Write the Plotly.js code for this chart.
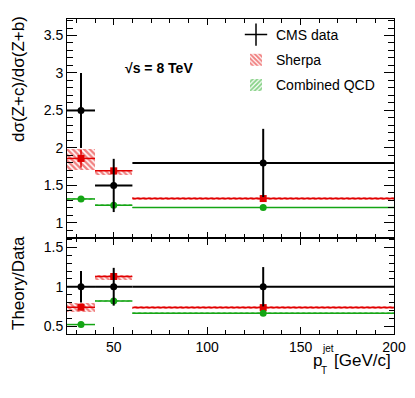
<!DOCTYPE html>
<html><head><meta charset="utf-8">
<script src="https://cdn.plot.ly/plotly-3.0.1.min.js"></script>
<style>html,body{margin:0;padding:0;background:#fff}#chart{width:415px;height:398px}</style>
</head><body><div id="chart"></div>
<script>
// ---- data ----
const binLo = [25, 40, 60];
const binHi = [40, 60, 200];
const cms = [2.5, 1.5, 1.8];
const cmsErr = [0.5, 0.355, 0.455];
const sherpa = [1.86, 1.695, 1.325];
const sherpaLo = [1.71, 1.635, 1.305];
const sherpaHi = [1.99, 1.71, 1.345];
const sherpaStat = [0.12, 0.015, 0.01];
const qcd = [1.32, 1.235, 1.205];
const qcdLo = [1.305, 1.22, 1.195];
const qcdHi = [1.335, 1.25, 1.215];
const cmsRatio = [1, 1, 1];
const cmsRatioErr = [0.2, 0.24, 0.25];
const sherpaR = [0.74, 1.13, 0.735];
const sherpaRLo = [0.675, 1.09, 0.715];
const sherpaRHi = [0.79, 1.143, 0.75];
const qcdR = [0.52, 0.82, 0.665];
const qcdRLo = [0.51, 0.81, 0.655];
const qcdRHi = [0.53, 0.83, 0.675];

const RED = 'rgb(225,0,0)', GREEN = 'rgb(20,165,20)';
const FONT = 'Liberation Sans, Arial, sans-serif';
const xc = binLo.map((l, i) => (l + binHi[i]) / 2);
const wd = binLo.map((l, i) => binHi[i] - l);
const hw = wd.map(w => w / 2);

function band(lo, hi, color, shape, xa, ya, name, show, grp) {
  return {type: 'bar', x: xc, width: wd, base: lo, y: hi.map((h, i) => h - lo[i]),
    xaxis: xa, yaxis: ya, name: name, showlegend: show, legendgroup: grp,
    marker: {color: 'rgba(0,0,0,0)', line: {width: 0},
      pattern: {shape: shape, fgcolor: color, bgcolor: 'rgba(0,0,0,0)', size: 4, solidity: 0.6, fillmode: 'overlay'}},
    hoverinfo: 'skip'};
}
function central(y, color, sym, xa, ya, ey) {
  const t = {type: 'scatter', mode: 'markers', x: xc, y: y, xaxis: xa, yaxis: ya, showlegend: false,
    marker: {color: color, symbol: sym, size: 7},
    error_x: {type: 'data', array: hw, color: color, thickness: 1.5, width: 0}};
  if (ey) t.error_y = {type: 'data', array: ey, color: color, thickness: 1.5, width: 0};
  return t;
}
function data(y, e, xa, ya) {
  return {type: 'scatter', mode: 'markers', x: xc, y: y, xaxis: xa, yaxis: ya, showlegend: false,
    marker: {color: 'black', symbol: 'circle', size: 7},
    error_x: {type: 'data', array: hw, color: 'black', thickness: 2, width: 0},
    error_y: {type: 'data', array: e, color: 'black', thickness: 2, width: 0}};
}

const traces = [
  band(sherpaLo, sherpaHi, RED, '\\', 'x2', 'y', 'Sherpa', true, 'g2'),
  band(qcdLo, qcdHi, GREEN, '/', 'x2', 'y', 'Combined QCD', true, 'g3'),
  central(sherpa, RED, 'square', 'x2', 'y', sherpaStat),
  central(qcd, GREEN, 'circle', 'x2', 'y'),
  data(cms, cmsErr, 'x2', 'y'),
  {type: 'scatter', mode: 'markers', x: [null], y: [null], xaxis: 'x2', yaxis: 'y', name: 'CMS data', legendgroup: 'g1',
    marker: {symbol: 'cross-thin', size: 16, color: 'black', line: {width: 1.5, color: 'black'}}, legendrank: 1},
  band(sherpaRLo, sherpaRHi, RED, '\\', 'x', 'y2', 'Sherpa', false, 'g2'),
  band(qcdRLo, qcdRHi, GREEN, '/', 'x', 'y2', 'Combined QCD', false, 'g3'),
  central(sherpaR, RED, 'square', 'x', 'y2'),
  central(qcdR, GREEN, 'circle', 'x', 'y2'),
  data(cmsRatio, cmsRatioErr, 'x', 'y2')
];
traces[0].legendrank = 2; traces[1].legendrank = 3;

const axBase = {showline: true, linecolor: 'black', linewidth: 1, mirror: 'allticks', ticks: 'inside',
  tickcolor: 'black', showgrid: false, zeroline: false, tickfont: {size: 14, family: FONT, color: 'black'}};
const P = (px) => (px - 67) / 327, Q = (py) => (334 - py) / 315;

const layout = {
  width: 415, height: 398, margin: {l: 67, r: 21, t: 19, b: 64},
  paper_bgcolor: 'white', plot_bgcolor: 'white', barmode: 'overlay', bargap: 0,
  font: {family: FONT, color: 'black'},
  xaxis: Object.assign({}, axBase, {anchor: 'y2', domain: [0, 1], range: [25, 200], tick0: 0, dtick: 50, ticklen: 7,
    minor: {ticks: 'inside', dtick: 10, ticklen: 4, tickcolor: 'black'}}),
  xaxis2: Object.assign({}, axBase, {anchor: 'y', matches: 'x', range: [25, 200], tick0: 0, dtick: 50, ticklen: 6,
    showticklabels: false, minor: {ticks: 'inside', dtick: 10, ticklen: 3.5, tickcolor: 'black'}}),
  yaxis: Object.assign({}, axBase, {domain: [0.305, 1], range: [0.8, 3.72], tick0: 0, dtick: 0.5, ticklen: 10,
    minor: {ticks: 'inside', dtick: 0.1, ticklen: 6, tickcolor: 'black'}}),
  yaxis2: Object.assign({}, axBase, {domain: [0, 0.305], range: [0.4, 1.62], tick0: 0, dtick: 0.5, ticklen: 10,
    minor: {ticks: 'inside', dtick: 0.1, ticklen: 5, tickcolor: 'black'}}),
  showlegend: true,
  legend: {x: P(236), y: Q(19), xanchor: 'left', yanchor: 'top', bgcolor: 'rgba(0,0,0,0)',
    font: {size: 14, family: FONT, color: 'black'}, traceorder: 'grouped', tracegroupgap: 4},
  annotations: [
    {xref: 'paper', yref: 'paper', x: P(159), y: Q(68), text: '<b>√s = 8 TeV</b>', showarrow: false,
      font: {size: 14, family: FONT}, xanchor: 'center', yanchor: 'middle'},
    {xref: 'paper', yref: 'paper', x: P(18), y: Q(79), text: 'dσ(Z+c)/dσ(Z+b)', textangle: -90, showarrow: false,
      font: {size: 17, family: FONT}, xanchor: 'center', yanchor: 'middle'},
    {xref: 'paper', yref: 'paper', x: P(18), y: Q(283), text: 'Theory/Data', textangle: -90, showarrow: false,
      font: {size: 17, family: FONT}, xanchor: 'center', yanchor: 'middle'},
    {xref: 'paper', yref: 'paper', x: P(393), y: Q(360), text: '[GeV/c]', showarrow: false,
      font: {size: 17, family: FONT}, xanchor: 'right', yanchor: 'middle'},
    {xref: 'paper', yref: 'paper', x: P(317), y: Q(360), text: 'p', showarrow: false,
      font: {size: 17, family: FONT}, xanchor: 'center', yanchor: 'middle'},
    {xref: 'paper', yref: 'paper', x: P(328), y: Q(348.5), text: 'jet', showarrow: false,
      font: {size: 10, family: FONT}, xanchor: 'center', yanchor: 'middle'},
    {xref: 'paper', yref: 'paper', x: P(324), y: Q(370), text: 'T', showarrow: false,
      font: {size: 10, family: FONT}, xanchor: 'center', yanchor: 'middle'}
  ]
};
Plotly.newPlot('chart', traces, layout, {staticPlot: true, displayModeBar: false});
</script></body></html>
